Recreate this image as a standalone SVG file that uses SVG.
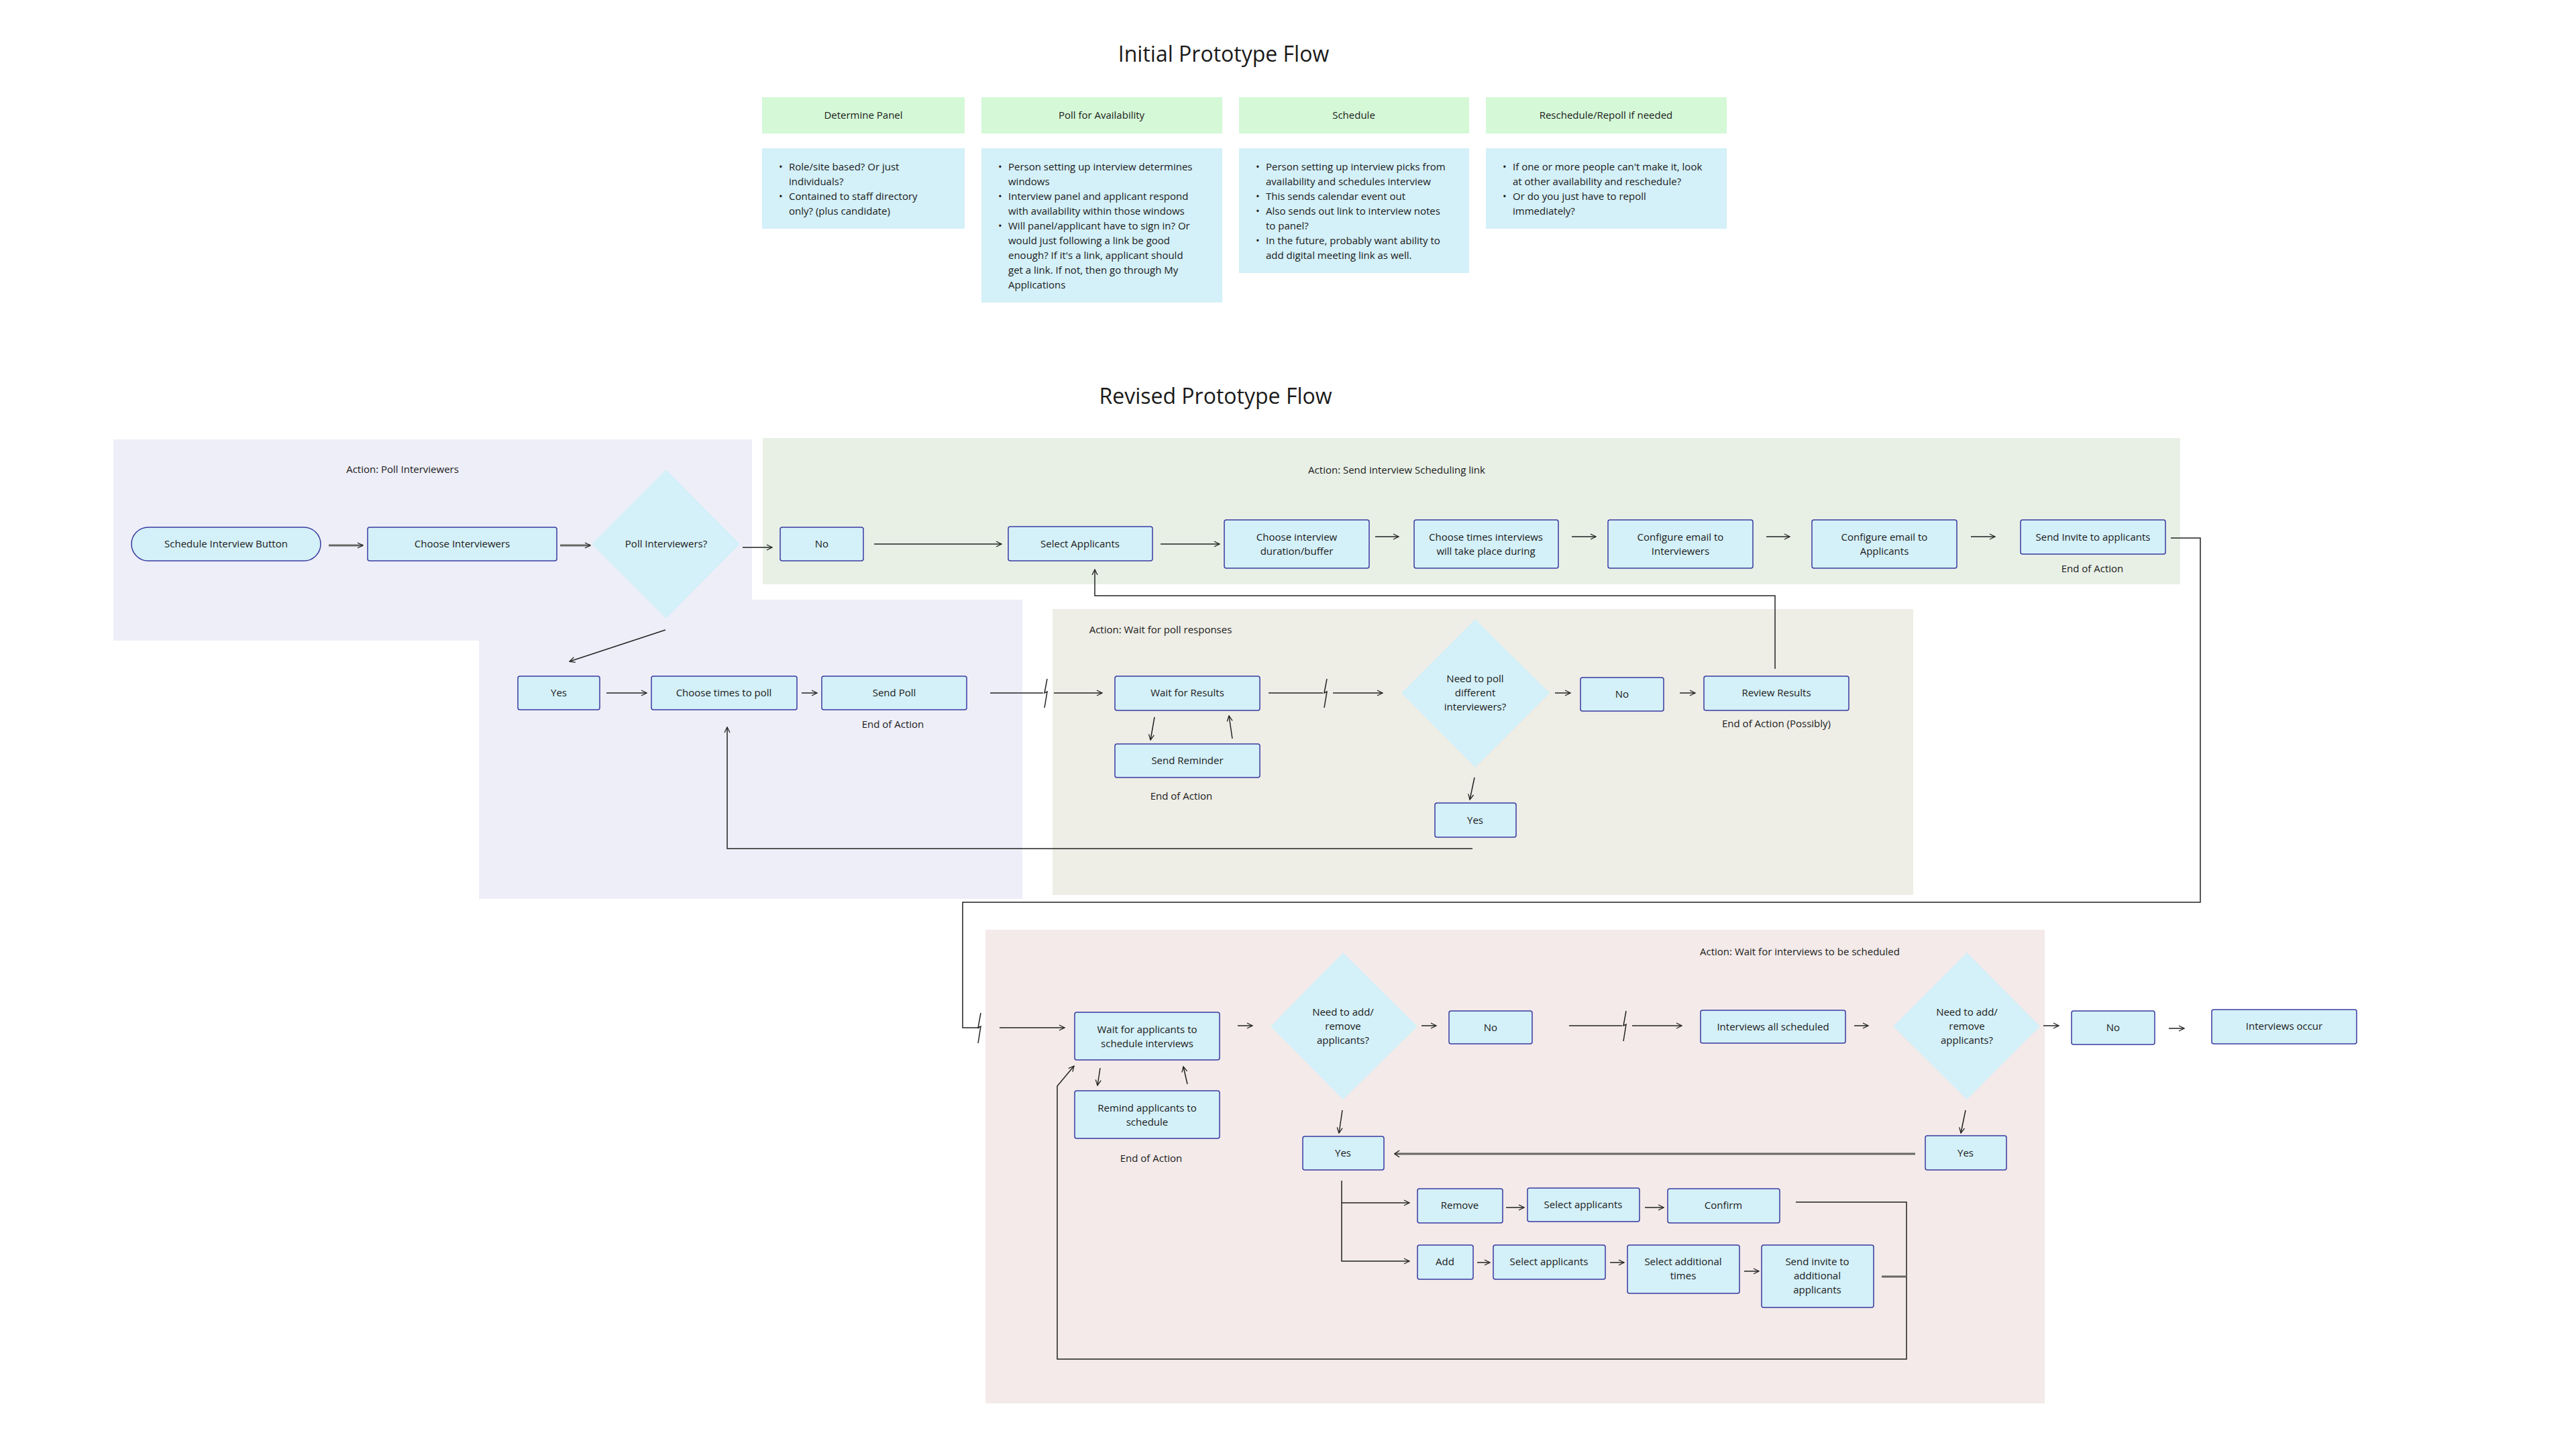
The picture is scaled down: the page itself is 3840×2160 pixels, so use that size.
<svg xmlns="http://www.w3.org/2000/svg" width="3840" height="2160" viewBox="0 0 3840 2160">
<defs>
<style>
text{font-family:"Open Sans","Liberation Sans",sans-serif;fill:#1a1a1a}
.t{font-size:32px;text-anchor:middle}
.h{font-size:15px;text-anchor:middle}
.n{font-size:15px}
.l{font-size:15px;text-anchor:middle}
.b{fill:#D4F0F8;stroke:#3A3AA0;stroke-width:1.5}
.d{fill:#D4F0F8}
.c{fill:none;stroke:#222;stroke-width:1.5}
.cg{fill:none;stroke:#666;stroke-width:3}
</style>
<marker id="a" markerWidth="10" markerHeight="10" refX="9" refY="5" orient="auto" markerUnits="userSpaceOnUse"><path d="M1,1 L9,5 L1,9" fill="none" stroke="#222" stroke-width="1.3"/></marker>
</defs>
<rect width="3840" height="2160" fill="#fff"/>

<g id="initial">
<text class="t" x="1824" y="92">Initial Prototype Flow</text>
<rect x="1136" y="145" width="302" height="54" fill="#D5F8D7"/>
<rect x="1463" y="145" width="359" height="54" fill="#D5F8D7"/>
<rect x="1847" y="145" width="343" height="54" fill="#D5F8D7"/>
<rect x="2215" y="145" width="359" height="54" fill="#D5F8D7"/>
<text class="h" x="1287" y="177">Determine Panel</text>
<text class="h" x="1642" y="177">Poll for Availability</text>
<text class="h" x="2018" y="177">Schedule</text>
<text class="h" x="2394" y="177">Reschedule/Repoll if needed</text>
<rect x="1136" y="221" width="302" height="120" fill="#D4F0F8"/>
<rect x="1463" y="221" width="359" height="230" fill="#D4F0F8"/>
<rect x="1847" y="221" width="343" height="186" fill="#D4F0F8"/>
<rect x="2215" y="221" width="359" height="120" fill="#D4F0F8"/>
<text class="n" x="1161" y="254">•<tspan x="1176">Role/site based? Or just</tspan><tspan x="1176" dy="22">individuals?</tspan><tspan x="1161" dy="22">•</tspan><tspan x="1176">Contained to staff directory</tspan><tspan x="1176" dy="22">only? (plus candidate)</tspan></text>
<text class="n" x="1488" y="254">•<tspan x="1503">Person setting up interview determines</tspan><tspan x="1503" dy="22">windows</tspan><tspan x="1488" dy="22">•</tspan><tspan x="1503">Interview panel and applicant respond</tspan><tspan x="1503" dy="22">with availability within those windows</tspan><tspan x="1488" dy="22">•</tspan><tspan x="1503">Will panel/applicant have to sign in? Or</tspan><tspan x="1503" dy="22">would just following a link be good</tspan><tspan x="1503" dy="22">enough? If it's a link, applicant should</tspan><tspan x="1503" dy="22">get a link. If not, then go through My</tspan><tspan x="1503" dy="22">Applications</tspan></text>
<text class="n" x="1872" y="254">•<tspan x="1887">Person setting up interview picks from</tspan><tspan x="1887" dy="22">availability and schedules interview</tspan><tspan x="1872" dy="22">•</tspan><tspan x="1887">This sends calendar event out</tspan><tspan x="1872" dy="22">•</tspan><tspan x="1887">Also sends out link to interview notes</tspan><tspan x="1887" dy="22">to panel?</tspan><tspan x="1872" dy="22">•</tspan><tspan x="1887">In the future, probably want ability to</tspan><tspan x="1887" dy="22">add digital meeting link as well.</tspan></text>
<text class="n" x="2240" y="254">•<tspan x="2255">If one or more people can't make it, look</tspan><tspan x="2255" dy="22">at other availability and reschedule?</tspan><tspan x="2240" dy="22">•</tspan><tspan x="2255">Or do you just have to repoll</tspan><tspan x="2255" dy="22">immediately?</tspan></text>
</g>

<text class="t" x="1812" y="602">Revised Prototype Flow</text>

<g id="regions">
<path d="M169,655 H1121 V894 H1524 V1340 H714 V955 H169 Z" fill="#EEEEF8"/>
<rect x="1137" y="653" width="2113" height="218" fill="#E8F0E6"/>
<rect x="1569" y="908" width="1283" height="426" fill="#EEEDE6"/>
<rect x="1469" y="1386" width="1579" height="706" fill="#F3EAE9"/>
<text class="l" x="600" y="705">Action: Poll Interviewers</text>
<text class="l" x="2082" y="706">Action: Send interview Scheduling link</text>
<text class="l" x="1730" y="944">Action: Wait for poll responses</text>
<text class="l" x="2683" y="1424">Action: Wait for interviews to be scheduled</text>
<text class="l" x="1331" y="1085">End of Action</text>
<text class="l" x="3119" y="853">End of Action</text>
<text class="l" x="1761" y="1192">End of Action</text>
<text class="l" x="2648" y="1084">End of Action (Possibly)</text>
<text class="l" x="1716" y="1732">End of Action</text>
</g>

<g id="connectors">
<path class="cg" d="M490,813 H541" marker-end="url(#a)"/>
<path class="cg" d="M835,813 H880" marker-end="url(#a)"/>
<path class="c" d="M1107,816 H1151" marker-end="url(#a)"/>
<path class="c" d="M1303,811 H1493" marker-end="url(#a)"/>
<path class="c" d="M1730,811 H1818" marker-end="url(#a)"/>
<path class="c" d="M2050,800 H2085" marker-end="url(#a)"/>
<path class="c" d="M2343,800 H2379" marker-end="url(#a)"/>
<path class="c" d="M2633,800 H2668" marker-end="url(#a)"/>
<path class="c" d="M2938,800 H2974" marker-end="url(#a)"/>
<path class="c" d="M3236,802 H3280 V1345 H1435 V1532 H1460"/>
<path class="c" d="M1462,1510 L1458,1532 L1462,1530 L1458,1555"/>
<path class="c" d="M1490,1532 H1587" marker-end="url(#a)"/>
<path class="c" d="M2646,997 V888 H1632 V849" marker-end="url(#a)"/>
<path class="c" d="M992,939 L849,986" marker-end="url(#a)"/>
<path class="c" d="M904,1033 H964" marker-end="url(#a)"/>
<path class="c" d="M1195,1033 H1218" marker-end="url(#a)"/>
<path class="c" d="M1476,1033 H1555"/>
<path class="c" d="M1561,1012 L1557,1033 L1561,1031 L1557,1055"/>
<path class="c" d="M1571,1033 H1643" marker-end="url(#a)"/>
<path class="c" d="M2195,1265 H1084 V1084" marker-end="url(#a)"/>
<path class="c" d="M1721,1069 L1715,1103" marker-end="url(#a)"/>
<path class="c" d="M1837,1101 L1832,1067" marker-end="url(#a)"/>
<path class="c" d="M1891,1033 H1972"/>
<path class="c" d="M1978,1012 L1974,1033 L1978,1031 L1974,1055"/>
<path class="c" d="M1987,1033 H2061" marker-end="url(#a)"/>
<path class="c" d="M2318,1033 H2341" marker-end="url(#a)"/>
<path class="c" d="M2504,1033 H2527" marker-end="url(#a)"/>
<path class="c" d="M2198,1159 L2191,1192" marker-end="url(#a)"/>
<path class="c" d="M1640,1592 L1636,1618" marker-end="url(#a)"/>
<path class="c" d="M1770,1616 L1764,1590" marker-end="url(#a)"/>
<path class="c" d="M1845,1529 H1867" marker-end="url(#a)"/>
<path class="c" d="M2119,1529 H2141" marker-end="url(#a)"/>
<path class="c" d="M2339,1529 H2418"/>
<path class="c" d="M2424,1507 L2420,1529 L2424,1527 L2420,1552"/>
<path class="c" d="M2433,1529 H2507" marker-end="url(#a)"/>
<path class="c" d="M2764,1529 H2785" marker-end="url(#a)"/>
<path class="c" d="M3046,1529 H3069" marker-end="url(#a)"/>
<path class="c" d="M3233,1533 H3256" marker-end="url(#a)"/>
<path class="c" d="M2930,1655 L2923,1689" marker-end="url(#a)"/>
<path class="c" d="M2001,1655 L1996,1689" marker-end="url(#a)"/>
<path class="cg" d="M2855,1720 H2079"/>
<path class="c" d="M2086,1715 L2079,1720 L2086,1725"/>
<path class="c" d="M2000,1760 V1880 H2101" marker-end="url(#a)"/>
<path class="c" d="M2000,1793 H2101" marker-end="url(#a)"/>
<path class="c" d="M2245,1800 H2272" marker-end="url(#a)"/>
<path class="c" d="M2452,1800 H2480" marker-end="url(#a)"/>
<path class="c" d="M2202,1882 H2221" marker-end="url(#a)"/>
<path class="c" d="M2400,1882 H2421" marker-end="url(#a)"/>
<path class="c" d="M2600,1895 H2622" marker-end="url(#a)"/>
<path class="c" d="M2677,1792 H2842 V2026 H1576 V1619 L1601,1589" marker-end="url(#a)"/>
<path class="cg" d="M2805,1903 H2842"/>
</g>

<g id="n-start"><rect class="b" x="196" y="786" width="282" height="50" rx="25"/><text class="l" x="337" y="816">Schedule Interview Button</text></g>
<g id="n-choose-int"><rect class="b" x="548" y="786" width="282" height="50" rx="3"/><text class="l" x="689" y="816">Choose Interviewers</text></g>
<g id="n-poll-q"><path class="d" d="M993,700 L1103,811 L993,922 L882,811 Z"/><text class="l" x="993" y="816">Poll Interviewers?</text></g>
<g id="n-no1"><rect class="b" x="1163" y="786" width="124" height="50" rx="3"/><text class="l" x="1225" y="816">No</text></g>
<g id="n-select-app"><rect class="b" x="1503" y="785" width="215" height="51" rx="3"/><text class="l" x="1610" y="816">Select Applicants</text></g>
<g id="n-duration"><rect class="b" x="1825" y="775" width="216" height="72" rx="3"/><text class="l" x="1933" y="806">Choose interview<tspan x="1933" dy="21">duration/buffer</tspan></text></g>
<g id="n-times"><rect class="b" x="2108" y="775" width="215" height="72" rx="3"/><text class="l" x="2215" y="806">Choose times interviews<tspan x="2215" dy="21">will take place during</tspan></text></g>
<g id="n-email-int"><rect class="b" x="2397" y="775" width="216" height="72" rx="3"/><text class="l" x="2505" y="806">Configure email to<tspan x="2505" dy="21">Interviewers</tspan></text></g>
<g id="n-email-app"><rect class="b" x="2701" y="775" width="216" height="72" rx="3"/><text class="l" x="2809" y="806">Configure email to<tspan x="2809" dy="21">Applicants</tspan></text></g>
<g id="n-invite"><rect class="b" x="3012" y="775" width="216" height="51" rx="3"/><text class="l" x="3120" y="806">Send Invite to applicants</text></g>
<g id="n-yes1"><rect class="b" x="772" y="1008" width="122" height="50" rx="3"/><text class="l" x="833" y="1038">Yes</text></g>
<g id="n-times-poll"><rect class="b" x="971" y="1008" width="217" height="50" rx="3"/><text class="l" x="1079" y="1038">Choose times to poll</text></g>
<g id="n-send-poll"><rect class="b" x="1225" y="1008" width="216" height="50" rx="3"/><text class="l" x="1333" y="1038">Send Poll</text></g>
<g id="n-wait-results"><rect class="b" x="1662" y="1008" width="216" height="51" rx="3"/><text class="l" x="1770" y="1038">Wait for Results</text></g>
<g id="n-reminder"><rect class="b" x="1662" y="1109" width="216" height="50" rx="3"/><text class="l" x="1770" y="1139">Send Reminder</text></g>
<g id="n-poll-diff"><path class="d" d="M2199,923 L2310,1033 L2199,1144 L2089,1033 Z"/><text class="l" x="2199" y="1017">Need to poll<tspan x="2199" dy="21">different</tspan><tspan x="2199" dy="21">interviewers?</tspan></text></g>
<g id="n-no2"><rect class="b" x="2356" y="1010" width="124" height="50" rx="3"/><text class="l" x="2418" y="1040">No</text></g>
<g id="n-review"><rect class="b" x="2540" y="1008" width="216" height="51" rx="3"/><text class="l" x="2648" y="1038">Review Results</text></g>
<g id="n-yes2"><rect class="b" x="2139" y="1197" width="121" height="51" rx="3"/><text class="l" x="2199" y="1228">Yes</text></g>
<g id="n-wait-app"><rect class="b" x="1602" y="1509" width="216" height="71" rx="3"/><text class="l" x="1710" y="1540">Wait for applicants to<tspan x="1710" dy="21">schedule interviews</tspan></text></g>
<g id="n-remind"><rect class="b" x="1602" y="1626" width="216" height="71" rx="3"/><text class="l" x="1710" y="1657">Remind applicants to<tspan x="1710" dy="21">schedule</tspan></text></g>
<g id="n-addrem1"><path class="d" d="M2002,1420 L2113,1530 L2002,1639 L1894,1530 Z"/><text class="l" x="2002" y="1514">Need to add/<tspan x="2002" dy="21">remove</tspan><tspan x="2002" dy="21">applicants?</tspan></text></g>
<g id="n-no3"><rect class="b" x="2160" y="1507" width="124" height="49" rx="3"/><text class="l" x="2222" y="1537">No</text></g>
<g id="n-all-sched"><rect class="b" x="2535" y="1506" width="216" height="49" rx="3"/><text class="l" x="2643" y="1536">Interviews all scheduled</text></g>
<g id="n-addrem2"><path class="d" d="M2932,1420 L3041,1530 L2932,1639 L2822,1530 Z"/><text class="l" x="2932" y="1514">Need to add/<tspan x="2932" dy="21">remove</tspan><tspan x="2932" dy="21">applicants?</tspan></text></g>
<g id="n-no4"><rect class="b" x="3088" y="1507" width="124" height="50" rx="3"/><text class="l" x="3150" y="1537">No</text></g>
<g id="n-occur"><rect class="b" x="3297" y="1505" width="216" height="51" rx="3"/><text class="l" x="3405" y="1535">Interviews occur</text></g>
<g id="n-yes3"><rect class="b" x="2870" y="1693" width="121" height="51" rx="3"/><text class="l" x="2930" y="1724">Yes</text></g>
<g id="n-yes4"><rect class="b" x="1942" y="1694" width="121" height="50" rx="3"/><text class="l" x="2002" y="1724">Yes</text></g>
<g id="n-remove"><rect class="b" x="2113" y="1772" width="127" height="51" rx="3"/><text class="l" x="2176" y="1802">Remove</text></g>
<g id="n-sel-app1"><rect class="b" x="2277" y="1771" width="167" height="50" rx="3"/><text class="l" x="2360" y="1801">Select applicants</text></g>
<g id="n-confirm"><rect class="b" x="2486" y="1772" width="167" height="51" rx="3"/><text class="l" x="2569" y="1802">Confirm</text></g>
<g id="n-add"><rect class="b" x="2113" y="1856" width="83" height="51" rx="3"/><text class="l" x="2154" y="1886">Add</text></g>
<g id="n-sel-app2"><rect class="b" x="2226" y="1856" width="167" height="51" rx="3"/><text class="l" x="2309" y="1886">Select applicants</text></g>
<g id="n-sel-times"><rect class="b" x="2426" y="1856" width="167" height="72" rx="3"/><text class="l" x="2509" y="1886">Select additional<tspan x="2509" dy="21">times</tspan></text></g>
<g id="n-send-add"><rect class="b" x="2626" y="1856" width="167" height="93" rx="3"/><text class="l" x="2709" y="1886">Send invite to<tspan x="2709" dy="21">additional</tspan><tspan x="2709" dy="21">applicants</tspan></text></g>
</svg>
